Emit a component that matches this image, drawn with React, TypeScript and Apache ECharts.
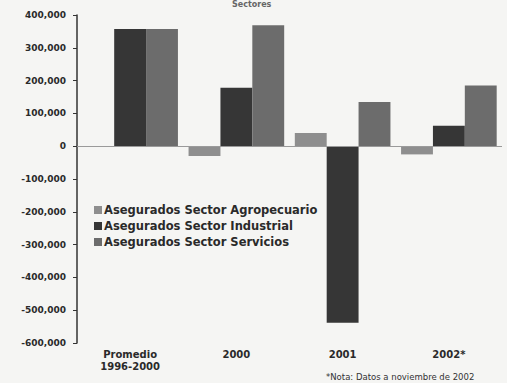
import React, { useEffect, useRef } from "react";
import * as echarts from "echarts";

const categories = ["Promedio\n1996-2000", "2000", "2001", "2002*"];
const seriesNames = [
  "Asegurados Sector Agropecuario",
  "Asegurados Sector Industrial",
  "Asegurados Sector Servicios",
];
const agropecuario = [null, -30000, 40000, -25000];
const industrial = [357000, 178000, -538000, 62000];
const servicios = [357000, 369000, 135000, 185000];
const yTicks = { min: -600000, max: 400000, interval: 100000 };

const colors = ["#8e8e8e", "#363636", "#6c6c6c"];
const FONT = "DejaVu Sans, Liberation Sans, Arial, sans-serif";

export default function App() {
  const ref = useRef<HTMLDivElement>(null);
  useEffect(() => {
    if (!ref.current) return;
    const chart = echarts.init(ref.current, undefined, { renderer: "svg" });
    const fmt = (v: number) => v.toLocaleString("en-US");
    chart.setOption({
      animation: false,
      backgroundColor: "#f5f5f3",
      textStyle: { fontFamily: FONT },
      grid: { left: 77, right: 5, top: 15, bottom: 40 },
      legend: {
        orient: "vertical",
        left: 89,
        top: 199,
        itemWidth: 8,
        itemHeight: 8,
        itemGap: 4,
        icon: "rect",
        textStyle: { fontFamily: FONT, fontSize: 11.5, fontWeight: "bold", color: "#2a2a2a", padding: [0, 0, 0, -3] },
        data: seriesNames,
      },
      xAxis: {
        type: "category",
        data: categories,
        axisLine: { show: false, onZero: false },
        axisTick: { show: false },
        axisLabel: {
          margin: 5,
          fontFamily: FONT,
          fontSize: 10,
          fontWeight: "bold",
          color: "#2a2a2a",
          lineHeight: 12,
        },
      },
      yAxis: {
        type: "value",
        min: yTicks.min,
        max: yTicks.max,
        interval: yTicks.interval,
        axisLine: { show: true, lineStyle: { color: "#333", width: 1.5 } },
        axisTick: { show: true, length: 4, lineStyle: { color: "#333" } },
        splitLine: { show: false },
        axisLabel: {
          formatter: (v: number) => fmt(v),
          margin: 11,
          fontFamily: FONT,
          fontSize: 9,
          fontWeight: "bold",
          color: "#2a2a2a",
        },
      },
      series: [
        {
          name: seriesNames[0],
          type: "bar",
          data: agropecuario,
          barGap: "0%",
          barCategoryGap: "10%",
          itemStyle: { color: colors[0] },
          markLine: {
            silent: true,
            symbol: "none",
            label: { show: false },
            lineStyle: { color: "#9a9a9a", width: 1, type: "solid" },
            data: [{ yAxis: 0 }],
          },
        },
        {
          name: seriesNames[1],
          type: "bar",
          data: industrial,
          barGap: "0%",
          barCategoryGap: "10%",
          itemStyle: { color: colors[1] },
        },
        {
          name: seriesNames[2],
          type: "bar",
          data: servicios,
          barGap: "0%",
          barCategoryGap: "10%",
          itemStyle: { color: colors[2] },
        },
      ],
      graphic: [
        {
          type: "text",
          left: 232,
          top: 0,
          style: { text: "Sectores", fontFamily: FONT, fontSize: 8, fontWeight: "bold", fill: "#666" },
        },
        {
          type: "text",
          left: 326,
          top: 372,
          style: { text: "*Nota: Datos a noviembre de 2002", fontFamily: FONT, fontSize: 8.5, fill: "#333" },
        },
      ],
    });
    return () => chart.dispose();
  }, []);
  return (
    <div
      ref={ref}
      style={{ position: "fixed", left: 0, top: 0, width: 507, height: 383 }}
    />
  );
}
